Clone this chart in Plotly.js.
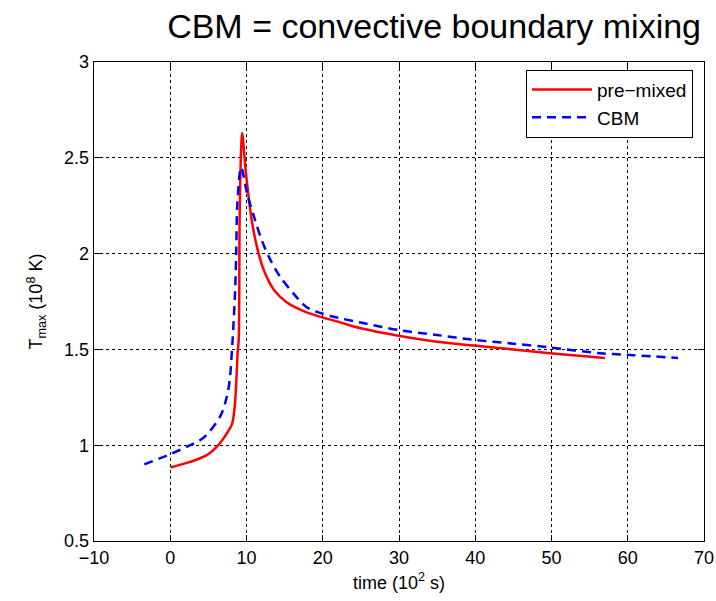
<!DOCTYPE html>
<html>
<head>
<meta charset="utf-8">
<script src="https://cdn.plot.ly/plotly-3.0.1.min.js"></script>
<style>html,body{margin:0;padding:0;background:#fff;}#chart{width:716px;height:601px;}</style>
</head>
<body>
<div id="chart"></div>
<script>
// pre-mixed series (time in 10^2 s, Tmax in 10^8 K)
const preMixedTime = [0.05, 2.6, 4.8, 6.3, 7.4, 8.1, 8.45, 8.67, 8.85, 8.98, 9.1, 9.3, 9.43, 9.9, 10.3, 10.7, 11.4, 12.3, 13.6, 15.3, 17.5, 19.7, 22.0, 25.0, 30.1, 35.0, 39.8, 45.0, 49.8, 54.0, 57.0];
const preMixedT    = [0.884, 0.913, 0.948, 1.0, 1.06, 1.11, 1.20, 1.34, 1.49, 1.55, 2.18, 2.55, 2.63, 2.43, 2.29, 2.17, 2.03, 1.91, 1.81, 1.745, 1.70, 1.67, 1.645, 1.61, 1.57, 1.54, 1.52, 1.50, 1.48, 1.465, 1.455];
// CBM series
const cbmTime = [-3.4, 0, 2.6, 4.4, 6.55, 7.4, 7.8, 8.1, 8.25, 8.5, 8.65, 8.8, 9.3, 10.1, 11.0, 12.0, 13.1, 14.4, 16.2, 17.9, 19.7, 22.0, 25.0, 30.1, 35.0, 39.8, 45.0, 49.8, 56.4, 60.7, 66.6];
const cbmT    = [0.90, 0.953, 1.0, 1.04, 1.15, 1.25, 1.34, 1.50, 1.60, 1.80, 2.0, 2.26, 2.45, 2.31, 2.19, 2.07, 1.97, 1.88, 1.79, 1.72, 1.69, 1.665, 1.64, 1.60, 1.575, 1.55, 1.53, 1.51, 1.48, 1.47, 1.455];
const xTicks = [-10, 0, 10, 20, 30, 40, 50, 60, 70];
const yTicks = [0.5, 1, 1.5, 2, 2.5, 3];
const seriesNames = ['pre\u2212mixed', 'CBM'];

const font = 'Liberation Sans, Arial, sans-serif';
const traces = [
  {x: preMixedTime, y: preMixedT, name: seriesNames[0], mode: 'lines', line: {color: '#ff0000', width: 2.5, shape: 'spline', smoothing: 0.9}},
  {x: cbmTime, y: cbmT, name: seriesNames[1], mode: 'lines', line: {color: '#0000ff', width: 2.5, dash: '9px,6px', shape: 'spline', smoothing: 0.9}}
];
const axisCommon = {
  showline: true, linecolor: '#000', linewidth: 1.3, mirror: 'ticks',
  ticks: 'inside', ticklen: 6, tickcolor: '#000', tickwidth: 1,
  showgrid: true, gridcolor: '#000', gridwidth: 1, griddash: 'dot',
  zeroline: false, tickfont: {family: font, size: 18, color: '#000'}
};
const layout = {
  width: 716, height: 601,
  margin: {l: 94, r: 12, t: 61.5, b: 60},
  paper_bgcolor: '#fff', plot_bgcolor: '#fff',
  title: {text: 'CBM = convective boundary mixing', font: {family: font, size: 34, color: '#000'},
          x: 701/716, xanchor: 'right', xref: 'container', y: 1 - 26/601, yanchor: 'middle', yref: 'container'},
  xaxis: Object.assign({}, axisCommon, {range: [-10, 70], tickvals: xTicks, ticktext: xTicks.map(String).map(s => s.replace('-', '\u2212')),
    title: {text: 'time (10<sup>2</sup> s)', font: {family: font, size: 18, color: '#000'}, standoff: 9}}),
  yaxis: Object.assign({}, axisCommon, {range: [0.5, 3], tickvals: yTicks, ticktext: yTicks.map(String),
    title: {text: 'T<sub>max</sub> (10<sup>8</sup> K)', font: {family: font, size: 18, color: '#000'}, standoff: 16}}),
  legend: {x: 0.982, y: 0.984, xanchor: 'right', yanchor: 'top', bordercolor: '#000', borderwidth: 1, bgcolor: '#fff',
    font: {family: font, size: 19, color: '#000'}, itemwidth: 60, tracegroupgap: 0},
  showlegend: true
};
Plotly.newPlot('chart', traces, layout, {staticPlot: true, displayModeBar: false});
</script>
</body>
</html>
